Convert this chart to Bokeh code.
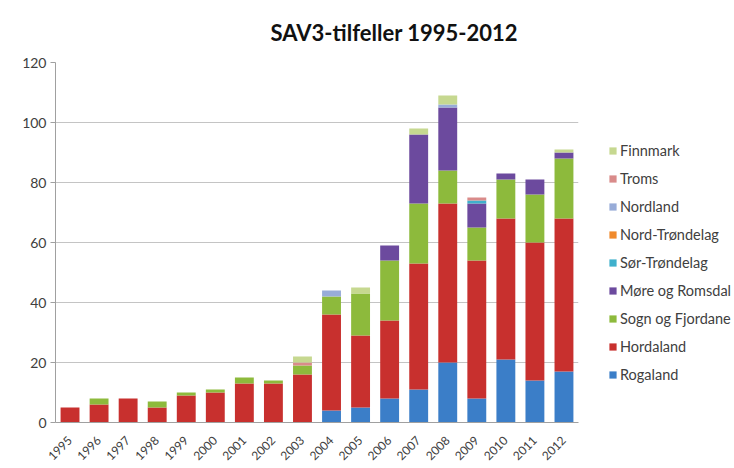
import math
from bokeh.plotting import figure
from bokeh.models import Legend, LegendItem, FixedTicker
from bokeh.embed import file_html
from bokeh.resources import INLINE

years = ["1995", "1996", "1997", "1998", "1999", "2000", "2001", "2002", "2003",
         "2004", "2005", "2006", "2007", "2008", "2009", "2010", "2011", "2012"]

rogaland       = [0, 0, 0, 0, 0, 0, 0, 0, 0, 4, 5, 8, 11, 20, 8, 21, 14, 17]
hordaland      = [5, 6, 8, 5, 9, 10, 13, 13, 16, 32, 24, 26, 42, 53, 46, 47, 46, 51]
sogn_fjordane  = [0, 2, 0, 2, 1, 1, 2, 1, 3, 6, 14, 20, 20, 11, 11, 13, 16, 20]
more_romsdal   = [0, 0, 0, 0, 0, 0, 0, 0, 0, 0, 0, 5, 23, 21, 8, 2, 5, 2]
sor_trondelag  = [0, 0, 0, 0, 0, 0, 0, 0, 0, 0, 0, 0, 0, 0, 1, 0, 0, 0]
nord_trondelag = [0, 0, 0, 0, 0, 0, 0, 0, 0, 0, 0, 0, 0, 0, 0, 0, 0, 0]
nordland       = [0, 0, 0, 0, 0, 0, 0, 0, 0, 2, 0, 0, 0, 1, 0, 0, 0, 0]
troms          = [0, 0, 0, 0, 0, 0, 0, 0, 1, 0, 0, 0, 0, 0, 1, 0, 0, 0]
finnmark       = [0, 0, 0, 0, 0, 0, 0, 0, 2, 0, 2, 0, 2, 3, 0, 0, 0, 1]

series_names = ["Rogaland", "Hordaland", "Sogn og Fjordane", "Møre og Romsdal",
                "Sør-Trøndelag", "Nord-Trøndelag", "Nordland", "Troms", "Finnmark"]
series_values = [rogaland, hordaland, sogn_fjordane, more_romsdal, sor_trondelag,
                 nord_trondelag, nordland, troms, finnmark]
colors = ["#3b7ec8", "#c8302e", "#8dba3c", "#6c4a9e", "#3fb0cc",
          "#f08a2c", "#98acd8", "#d98b8a", "#c6d890"]

y_ticks = [0, 20, 40, 60, 80, 100, 120]

data = {"year": years}
for name, vals in zip(series_names, series_values):
    data[name] = vals

p = figure(x_range=years, y_range=(0, 120),
           frame_width=523, frame_height=360,
           output_backend="svg", toolbar_location=None,
           min_border_left=55, min_border_right=148,
           min_border_top=62, min_border_bottom=38)

renderers = p.vbar_stack(series_names, x="year", width=0.65, source=data,
                         color=colors, line_color=None)

p.title.text = "SAV3-tilfeller 1995-2012"
p.title.text_font = "Lato"
p.title.text_font_size = "22px"
p.title.text_font_style = "bold"
p.title.text_color = "#111111"
p.title.align = "left"
p.title.offset = 215
p.title.standoff = 33

p.outline_line_color = None
p.xgrid.grid_line_color = None
p.ygrid.grid_line_color = "#c4c4c4"
p.ygrid.grid_line_width = 1

p.yaxis.ticker = FixedTicker(ticks=y_ticks)
p.yaxis.axis_line_color = "#a0a0a0"
p.yaxis.major_tick_line_color = "#a0a0a0"
p.yaxis.major_tick_out = 5
p.yaxis.major_tick_in = 0
p.yaxis.minor_tick_line_color = None
p.yaxis.major_label_standoff = 4
p.yaxis.major_label_text_font = "Lato"
p.yaxis.major_label_text_font_size = "14px"
p.yaxis.major_label_text_color = "#404040"

p.xaxis.axis_line_color = "#a0a0a0"
p.xaxis.major_tick_line_color = None
p.xaxis.major_label_orientation = math.pi / 4
p.xaxis.major_label_standoff = 10
p.xaxis.major_label_text_font = "Lato"
p.xaxis.major_label_text_font_size = "12px"
p.xaxis.major_label_text_color = "#404040"

items = [LegendItem(label=n, renderers=[r]) for n, r in zip(series_names, renderers)]
items.reverse()
legend = Legend(items=items, location=(30, 38), orientation="vertical",
                border_line_color=None, background_fill_alpha=0,
                padding=0, margin=0, spacing=8,
                glyph_width=9, glyph_height=9, label_height=20,
                label_standoff=3,
                label_text_font="Lato", label_text_font_size="14.5px",
                label_text_color="#404040")
p.add_layout(legend, "right")

open("out.html", "w").write(file_html(p, INLINE))
